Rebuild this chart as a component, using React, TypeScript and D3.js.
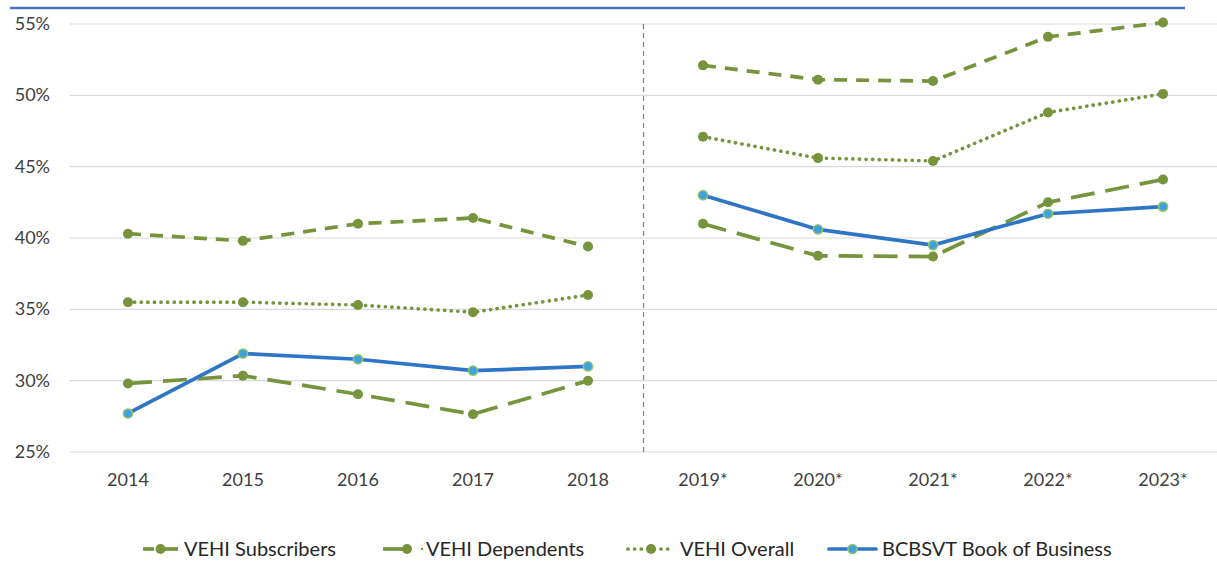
import React, { useRef, useEffect } from 'react';
import * as d3 from 'd3';

const years = ['2014', '2015', '2016', '2017', '2018', '2019*', '2020*', '2021*', '2022*', '2023*'];
const subscribers = [40.3, 39.8, 41.0, 41.4, 39.4, 52.1, 51.1, 51.0, 54.1, 55.1];
const dependents = [29.8, 30.35, 29.05, 27.65, 30.0, 41.0, 38.75, 38.7, 42.5, 44.1];
const overall = [35.5, 35.5, 35.3, 34.8, 36.0, 47.1, 45.6, 45.4, 48.8, 50.1];
const bcbsvt = [27.7, 31.9, 31.5, 30.7, 31.0, 43.0, 40.6, 39.5, 41.7, 42.2];
const yTicks = [25, 30, 35, 40, 45, 50, 55];
// actual years vs projected years are drawn as separate segments
const splitAt = 5;

const GREEN = '#77933c';
const BLUE = '#2e75c6';

const series = [
  { name: 'VEHI Subscribers', values: subscribers, color: GREEN, dash: '13,9', width: 3.7, cap: 'butt' },
  { name: 'VEHI Dependents', values: dependents, color: GREEN, dash: '24,11', width: 3.7, cap: 'butt' },
  { name: 'VEHI Overall', values: overall, color: GREEN, dash: '0.1,6.5', width: 3.7, cap: 'round' },
  { name: 'BCBSVT Book of Business', values: bcbsvt, color: BLUE, dash: null, width: 3.7, cap: 'round' },
];

const App = () => {
  const svgRef = useRef<SVGSVGElement>(null);

  useEffect(() => {
    const svg = d3.select(svgRef.current);
    svg.selectAll('*').remove();
    const font = 'Lato, "Open Sans", sans-serif';

    const x = d3.scaleBand().domain(years).range([70.5, 1220.5]);
    const y = d3.scaleLinear().domain([25, 55]).range([452, 24]);
    const cx = (d: string) => (x(d) as number) + x.bandwidth() / 2;

    // top rule
    svg.append('line')
      .attr('x1', 10).attr('x2', 1185).attr('y1', 8).attr('y2', 8)
      .attr('stroke', '#4472c4').attr('stroke-width', 2.5);

    // grid
    svg.append('g').selectAll('line').data(yTicks).enter().append('line')
      .attr('x1', 70).attr('x2', 1217)
      .attr('y1', d => y(d)).attr('y2', d => y(d))
      .attr('stroke', '#d9d9d9').attr('stroke-width', 1.2);

    // y labels
    svg.append('g').selectAll('text').data(yTicks).enter().append('text')
      .attr('x', 50).attr('y', d => y(d) + 6)
      .attr('text-anchor', 'end')
      .attr('font-family', font).attr('font-size', 18).attr('fill', '#404040')
      .text(d => `${d}%`);

    // x labels
    svg.append('g').selectAll('text').data(years).enter().append('text')
      .attr('x', d => cx(d)).attr('y', 486)
      .attr('text-anchor', 'middle')
      .attr('font-family', font).attr('font-size', 18).attr('fill', '#404040')
      .text(d => d);

    // divider between actual and projected
    const divX = (x(years[splitAt]) as number) - 2;
    svg.append('line')
      .attr('x1', divX).attr('x2', divX).attr('y1', y(55)).attr('y2', y(25))
      .attr('stroke', '#7f7f7f').attr('stroke-width', 1.2).attr('stroke-dasharray', '5,4');

    const line = d3.line<[string, number]>()
      .x(d => cx(d[0]))
      .y(d => y(d[1]));

    series.forEach(s => {
      const pts = s.values.map((v, i) => [years[i], v] as [string, number]);
      [pts.slice(0, splitAt), pts.slice(splitAt)].forEach(seg => {
        svg.append('path')
          .datum(seg)
          .attr('fill', 'none')
          .attr('stroke', s.color)
          .attr('stroke-width', s.width)
          .attr('stroke-linecap', s.cap)
          .attr('stroke-dasharray', s.dash)
          .attr('d', line);
      });

      svg.append('g').selectAll('circle').data(pts).enter().append('circle')
        .attr('cx', d => cx(d[0]))
        .attr('cy', d => y(d[1]))
        .attr('r', s.color === BLUE ? 4.6 : 5)
        .attr('fill', s.color === BLUE ? '#3fa2dc' : GREEN)
        .attr('stroke', s.color === BLUE ? '#92c46a' : 'none')
        .attr('stroke-width', 1.5);
    });

    // legend
    const legendItems = [
      { s: series[0], sx: 143, tx: 184 },
      { s: series[1], sx: 383, tx: 426 },
      { s: series[2], sx: 628, tx: 680 },
      { s: series[3], sx: 829, tx: 882 },
    ];
    const ly = 549;
    legendItems.forEach(({ s, sx, tx }) => {
      const w = tx - sx - 6;
      const g = svg.append('g');
      if (s.name === 'VEHI Subscribers') {
        g.append('line').attr('x1', sx).attr('x2', sx + 11).attr('y1', ly).attr('y2', ly)
          .attr('stroke', s.color).attr('stroke-width', 3.7);
        g.append('line').attr('x1', sx + 19).attr('x2', sx + w).attr('y1', ly).attr('y2', ly)
          .attr('stroke', s.color).attr('stroke-width', 3.7);
      } else if (s.name === 'VEHI Dependents') {
        g.append('line').attr('x1', sx).attr('x2', sx + 24).attr('y1', ly).attr('y2', ly)
          .attr('stroke', s.color).attr('stroke-width', 3.7);
        g.append('circle').attr('cx', tx - 4).attr('cy', ly).attr('r', 1.2).attr('fill', s.color);
      } else {
        g.append('line').attr('x1', sx).attr('x2', sx + w).attr('y1', ly).attr('y2', ly)
          .attr('stroke', s.color).attr('stroke-width', s.width)
          .attr('stroke-linecap', s.cap).attr('stroke-dasharray', s.dash);
      }
      const mx = s.name === 'VEHI Dependents' ? sx + 24 : sx + w / 2;
      g.append('circle').attr('cx', mx).attr('cy', ly)
        .attr('r', s.color === BLUE ? 4.6 : 5)
        .attr('fill', s.color === BLUE ? '#3fa2dc' : GREEN)
        .attr('stroke', s.color === BLUE ? '#92c46a' : 'none')
        .attr('stroke-width', 1.5);
      g.append('text').attr('x', tx).attr('y', ly + 7)
        .attr('font-family', font).attr('font-size', 20).attr('fill', '#262626')
        .text(s.name);
    });
  }, []);

  return (
    <svg ref={svgRef} width={1217} height={575}
      style={{ position: 'absolute', left: 0, top: 0, background: '#fff' }} />
  );
};

export default App;
